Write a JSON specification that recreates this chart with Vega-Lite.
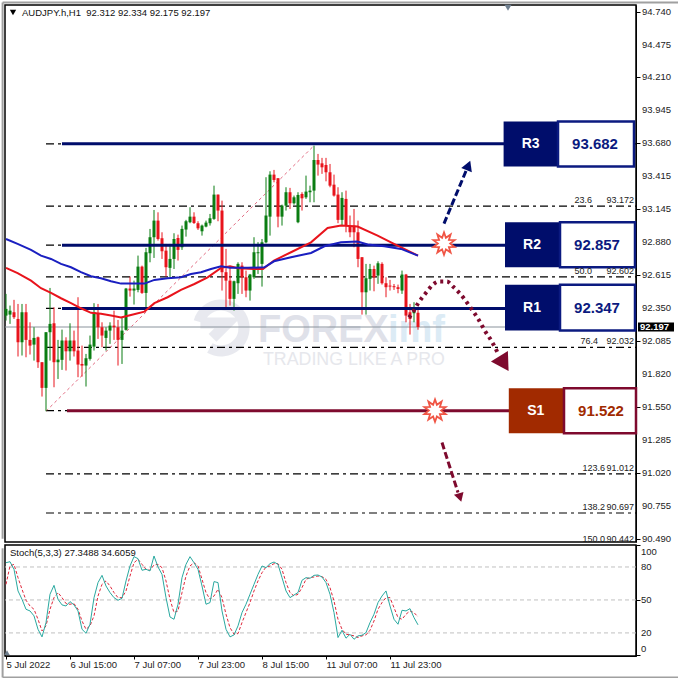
{"$schema":"https://vega.github.io/schema/vega-lite/v6.json","padding":0,"background":"#ffffff","spacing":-2,
"config":{"view":{"stroke":"#000000","strokeWidth":1.5},"font":"Liberation Sans","axis":{"labelFont":"Liberation Sans","labelFontSize":9.5,"labelColor":"#222222","tickColor":"#000000","tickSize":4,"domainColor":"#000000","grid":false,"title":null,"labelFlush":false}},
"datasets":{
"candles":[
{"k":0,"o":92.289,"h":92.464,"l":92.249,"c":92.343},{"k":1,"o":92.297,"h":92.37,"l":92.222,"c":92.329},{"k":2,"o":92.316,"h":92.416,"l":92.262,"c":92.276},{"k":3,"o":92.262,"h":92.383,"l":91.959,"c":92.074},{"k":4,"o":92.074,"h":92.383,"l":91.967,"c":92.316},{"k":5,"o":92.316,"h":92.383,"l":91.953,"c":92.093},{"k":6,"o":92.093,"h":92.235,"l":91.975,"c":92.047},{"k":7,"o":92.055,"h":92.195,"l":91.926,"c":92.109},{"k":8,"o":92.114,"h":92.12,"l":91.867,"c":91.913},{"k":9,"o":91.913,"h":91.913,"l":91.636,"c":91.706},
{"k":10,"o":91.706,"h":92.155,"l":91.518,"c":92.155},{"k":11,"o":92.155,"h":92.512,"l":91.926,"c":92.222},{"k":12,"o":92.227,"h":92.356,"l":91.711,"c":91.913},{"k":13,"o":91.913,"h":92.093,"l":91.778,"c":91.934},{"k":14,"o":91.932,"h":92.176,"l":91.851,"c":92.088},{"k":15,"o":92.088,"h":92.114,"l":91.846,"c":92.001},{"k":16,"o":92.001,"h":92.227,"l":91.926,"c":92.088},{"k":17,"o":92.088,"h":92.168,"l":91.959,"c":92.001},{"k":18,"o":92.007,"h":92.437,"l":91.792,"c":91.894},{"k":19,"o":91.899,"h":92.047,"l":91.797,"c":91.886},
{"k":20,"o":91.886,"h":91.98,"l":91.717,"c":91.945},{"k":21,"o":91.94,"h":92.128,"l":91.926,"c":92.055},{"k":22,"o":92.039,"h":92.389,"l":92.007,"c":92.316},{"k":23,"o":92.308,"h":92.383,"l":92.101,"c":92.195},{"k":24,"o":92.195,"h":92.235,"l":92.034,"c":92.128},{"k":25,"o":92.109,"h":92.195,"l":92.007,"c":92.168},{"k":26,"o":92.168,"h":92.235,"l":92.061,"c":92.208},{"k":27,"o":92.208,"h":92.329,"l":92.093,"c":92.195},{"k":28,"o":92.195,"h":92.254,"l":91.886,"c":92.093},{"k":29,"o":92.093,"h":92.276,"l":91.899,"c":92.168},
{"k":30,"o":92.174,"h":92.512,"l":92.168,"c":92.507},{"k":31,"o":92.507,"h":92.604,"l":92.442,"c":92.491},{"k":32,"o":92.491,"h":92.571,"l":92.378,"c":92.507},{"k":33,"o":92.496,"h":92.773,"l":92.477,"c":92.684},{"k":34,"o":92.684,"h":92.692,"l":92.464,"c":92.472},{"k":35,"o":92.472,"h":92.835,"l":92.356,"c":92.8},{"k":36,"o":92.792,"h":92.988,"l":92.719,"c":92.921},{"k":37,"o":92.921,"h":93.141,"l":92.754,"c":93.055},{"k":38,"o":93.055,"h":93.122,"l":92.894,"c":92.907},{"k":39,"o":92.913,"h":92.961,"l":92.746,"c":92.808},
{"k":40,"o":92.813,"h":92.867,"l":92.604,"c":92.679},{"k":41,"o":92.674,"h":92.867,"l":92.598,"c":92.746},{"k":42,"o":92.746,"h":92.953,"l":92.665,"c":92.907},{"k":43,"o":92.915,"h":92.942,"l":92.733,"c":92.819},{"k":44,"o":92.84,"h":93.015,"l":92.819,"c":92.988},{"k":45,"o":92.983,"h":93.061,"l":92.926,"c":93.05},{"k":46,"o":93.042,"h":93.163,"l":93.034,"c":93.087},{"k":47,"o":93.087,"h":93.122,"l":93.028,"c":93.036},{"k":48,"o":93.034,"h":93.05,"l":92.98,"c":92.993},{"k":49,"o":92.969,"h":93.023,"l":92.934,"c":93.015},
{"k":50,"o":93.007,"h":93.055,"l":93.001,"c":93.039},{"k":51,"o":93.034,"h":93.109,"l":93.015,"c":93.074},{"k":52,"o":93.069,"h":93.337,"l":93.061,"c":93.265},{"k":53,"o":93.265,"h":93.265,"l":93.05,"c":93.136},{"k":54,"o":93.136,"h":93.216,"l":92.491,"c":92.639},{"k":55,"o":92.639,"h":92.827,"l":92.356,"c":92.571},{"k":56,"o":92.571,"h":92.679,"l":92.37,"c":92.424},{"k":57,"o":92.424,"h":92.571,"l":92.329,"c":92.566},{"k":58,"o":92.55,"h":92.719,"l":92.464,"c":92.706},{"k":59,"o":92.692,"h":92.719,"l":92.464,"c":92.598},
{"k":60,"o":92.598,"h":92.652,"l":92.437,"c":92.491},{"k":61,"o":92.491,"h":92.625,"l":92.41,"c":92.62},{"k":62,"o":92.598,"h":92.921,"l":92.585,"c":92.8},{"k":63,"o":92.792,"h":92.881,"l":92.625,"c":92.8},{"k":64,"o":92.706,"h":92.907,"l":92.523,"c":92.88},{"k":65,"o":92.88,"h":93.405,"l":92.872,"c":93.096},{"k":66,"o":93.087,"h":93.453,"l":92.934,"c":93.426},{"k":67,"o":93.426,"h":93.464,"l":93.364,"c":93.383},{"k":68,"o":93.397,"h":93.397,"l":93.001,"c":93.087},{"k":69,"o":93.087,"h":93.184,"l":93.015,"c":93.176},
{"k":70,"o":93.176,"h":93.324,"l":93.136,"c":93.284},{"k":71,"o":93.284,"h":93.319,"l":93.149,"c":93.195},{"k":72,"o":93.195,"h":93.257,"l":93.184,"c":93.243},{"k":73,"o":93.042,"h":93.284,"l":93.034,"c":93.262},{"k":74,"o":93.27,"h":93.284,"l":93.136,"c":93.235},{"k":75,"o":93.243,"h":93.418,"l":93.23,"c":93.289},{"k":76,"o":93.284,"h":93.337,"l":93.203,"c":93.297},{"k":77,"o":93.297,"h":93.66,"l":93.203,"c":93.544},{"k":78,"o":93.544,"h":93.593,"l":93.418,"c":93.507},{"k":79,"o":93.517,"h":93.561,"l":93.432,"c":93.485},
{"k":80,"o":93.504,"h":93.561,"l":93.372,"c":93.445},{"k":81,"o":93.445,"h":93.512,"l":93.324,"c":93.337},{"k":82,"o":93.345,"h":93.426,"l":93.249,"c":93.257},{"k":83,"o":93.265,"h":93.324,"l":93.034,"c":93.061},{"k":84,"o":93.061,"h":93.284,"l":93.015,"c":93.238},{"k":85,"o":93.23,"h":93.297,"l":92.961,"c":93.015},{"k":86,"o":93.015,"h":93.096,"l":92.921,"c":92.961},{"k":87,"o":93.015,"h":93.149,"l":92.84,"c":92.961},{"k":88,"o":92.961,"h":93.055,"l":92.679,"c":92.746},{"k":89,"o":92.76,"h":92.76,"l":92.297,"c":92.477},
{"k":90,"o":92.477,"h":92.706,"l":92.297,"c":92.59},{"k":91,"o":92.585,"h":92.706,"l":92.491,"c":92.665},{"k":92,"o":92.665,"h":92.692,"l":92.485,"c":92.598},{"k":93,"o":92.612,"h":92.727,"l":92.545,"c":92.711},{"k":94,"o":92.706,"h":92.719,"l":92.539,"c":92.55},{"k":95,"o":92.55,"h":92.598,"l":92.437,"c":92.518},{"k":96,"o":92.531,"h":92.577,"l":92.491,"c":92.523},{"k":97,"o":92.526,"h":92.544,"l":92.496,"c":92.518},{"k":98,"o":92.518,"h":92.539,"l":92.469,"c":92.504},{"k":99,"o":92.491,"h":92.652,"l":92.464,"c":92.62},
{"k":100,"o":92.62,"h":92.625,"l":92.235,"c":92.289},{"k":101,"o":92.316,"h":92.383,"l":92.136,"c":92.262},{"k":102,"o":92.308,"h":92.397,"l":92.235,"c":92.338},{"k":103,"o":92.312,"h":92.334,"l":92.175,"c":92.197}],
"blue":[{"k":0,"p":92.907},{"k":2.9,"p":92.867},{"k":6.25,"p":92.819},{"k":8.75,"p":92.773},{"k":11.25,"p":92.746},{"k":13.75,"p":92.706},{"k":16.25,"p":92.679},{"k":18.75,"p":92.639},{"k":21.25,"p":92.606},{"k":23.75,"p":92.59},{"k":26.25,"p":92.566},{"k":28.75,"p":92.547},{"k":31.25,"p":92.547},{"k":34.6,"p":92.547},{"k":37.1,"p":92.577},{"k":40.4,"p":92.59},{"k":43.75,"p":92.598},{"k":46.25,"p":92.625},{"k":48.75,"p":92.639},{"k":51.25,"p":92.665},{"k":53.75,"p":92.687},{"k":56,"p":92.674},{"k":58,"p":92.674},{"k":60.5,"p":92.674},{"k":64.6,"p":92.679},{"k":67,"p":92.727},{"k":71.25,"p":92.76},{"k":76.25,"p":92.794},{"k":79.6,"p":92.848},{"k":83.75,"p":92.88},{"k":87.9,"p":92.886},{"k":90.4,"p":92.862},{"k":94.6,"p":92.848},{"k":98.75,"p":92.827},{"k":103,"p":92.773}],
"red":[{"k":0,"p":92.674},{"k":2.9,"p":92.631},{"k":6.25,"p":92.571},{"k":8.75,"p":92.51},{"k":11.25,"p":92.472},{"k":13.75,"p":92.429},{"k":16.25,"p":92.389},{"k":18.75,"p":92.348},{"k":21.25,"p":92.311},{"k":23.75,"p":92.303},{"k":26.25,"p":92.289},{"k":28.75,"p":92.273},{"k":31.25,"p":92.294},{"k":34.6,"p":92.321},{"k":37.1,"p":92.389},{"k":40.4,"p":92.437},{"k":43.75,"p":92.496},{"k":47.1,"p":92.544},{"k":50.4,"p":92.598},{"k":53.75,"p":92.674},{"k":56,"p":92.687},{"k":58,"p":92.671},{"k":62,"p":92.665},{"k":64.25,"p":92.665},{"k":67,"p":92.733},{"k":71.25,"p":92.8},{"k":76.25,"p":92.88},{"k":80.4,"p":92.996},{"k":83.75,"p":93.015},{"k":87.9,"p":93.007},{"k":92.9,"p":92.934},{"k":97,"p":92.867},{"k":103,"p":92.773}],
"fib":[{"p":93.674,"lv":"0.0"},{"p":93.172,"lv":"23.6"},{"p":92.857,"lv":"38.2"},{"p":92.602,"lv":"50.0"},{"p":92.347,"lv":"61.8"},{"p":92.032,"lv":"76.4"},{"p":91.522,"lv":"100.0"},{"p":91.012,"lv":"123.6"},{"p":90.697,"lv":"138.2"}],
"fibtext":[{"p":93.172,"lv":"23.6","pr":"93.172","k":146.5},{"p":92.602,"lv":"50.0","pr":"92.602","k":146.5},{"p":92.032,"lv":"76.4","pr":"92.032","k":148},{"p":91.012,"lv":"123.6","pr":"91.012","k":149.75},{"p":90.697,"lv":"138.2","pr":"90.697","k":149.75},{"p":90.442,"lv":"150.0","pr":"90.442","k":149.75}],
"levels":[{"n":"R3","p":93.674,"a":14,"b":124.5},{"n":"R2","p":92.857,"a":14,"b":125},{"n":"R1","p":92.347,"a":14,"b":125},{"n":"S1","p":91.522,"a":15.25,"b":126}],
"boxes":[{"n":"R3","v":"93.682","a":124.4,"m":138,"b":157,"t":93.854,"u":93.491,"p":93.674},{"n":"R2","v":"92.857","a":124.75,"m":138.5,"b":157.25,"t":93.042,"u":92.679,"p":92.862},{"n":"R1","v":"92.347","a":124.75,"m":138.5,"b":157.25,"t":92.537,"u":92.169,"p":92.354},{"n":"S1","v":"91.522","a":125.7,"m":139.5,"b":157.5,"t":91.703,"u":91.34,"p":91.522}],
"priceticks":[{"p":94.74,"t":"94.740"},{"p":94.475,"t":"94.475"},{"p":94.21,"t":"94.210"},{"p":93.945,"t":"93.945"},{"p":93.68,"t":"93.680"},{"p":93.415,"t":"93.415"},{"p":93.145,"t":"93.145"},{"p":92.88,"t":"92.880"},{"p":92.615,"t":"92.615"},{"p":92.35,"t":"92.350"},{"p":92.085,"t":"92.085"},{"p":91.82,"t":"91.820"},{"p":91.55,"t":"91.550"},{"p":91.285,"t":"91.285"},{"p":91.02,"t":"91.020"},{"p":90.755,"t":"90.755"},{"p":90.49,"t":"90.490"}],
"stoch":[{"k":0,"a":83.9,"b":64.2},{"k":1,"a":84.8,"b":80.9},{"k":2,"a":77.9,"b":82.4},{"k":3,"a":58.2,"b":70.3},{"k":4,"a":50.6,"b":59.7},{"k":5,"a":41.5,"b":49.7},{"k":6,"a":40,"b":44.5},{"k":7,"a":35.5,"b":41.5},{"k":8,"a":23.3,"b":32.4},{"k":9,"a":16.4,"b":21.8},{"k":10,"a":29.4,"b":26.4},{"k":11,"a":55.2,"b":41.5},{"k":12,"a":63.3,"b":52.1},{"k":13,"a":50.6,"b":56.7},{"k":14,"a":45.5,"b":52.1},{"k":15,"a":44.5,"b":46.7},{"k":16,"a":48.5,"b":46.1},{"k":17,"a":45.5,"b":46.7},{"k":18,"a":40,"b":41.5},{"k":19,"a":23.3,"b":30.9},{"k":20,"a":19.7,"b":23.3},{"k":21,"a":27.9,"b":26.4},{"k":22,"a":52,"b":35.5},{"k":23,"a":65.8,"b":53.6},{"k":24,"a":72.4,"b":64.2},{"k":25,"a":62.7,"b":67.3},{"k":26,"a":56.7,"b":62.7},{"k":27,"a":52.1,"b":56.7},{"k":28,"a":49.7,"b":52.1},{"k":29,"a":51.5,"b":52.1},{"k":30,"a":67.3,"b":58.2},{"k":31,"a":80.9,"b":71.8},{"k":32,"a":89.4,"b":83.9},{"k":33,"a":87.6,"b":87},{"k":34,"a":77,"b":82.4},{"k":35,"a":77.9,"b":77.9},{"k":36,"a":76.4,"b":77},{"k":37,"a":90,"b":81.8},{"k":38,"a":80,"b":82.4},{"k":39,"a":73.3,"b":79.4},{"k":40,"a":52.1,"b":67.3},{"k":41,"a":34.5,"b":50.6},{"k":42,"a":32.4,"b":38.5},{"k":43,"a":46.1,"b":40},{"k":44,"a":70.3,"b":56.7},{"k":45,"a":82.4,"b":71.8},{"k":46,"a":89.4,"b":80.9},{"k":47,"a":83.9,"b":83.9},{"k":48,"a":77.9,"b":80.9},{"k":49,"a":62.7,"b":68.8},{"k":50,"a":46.1,"b":56.7},{"k":51,"a":47.6,"b":50.6},{"k":52,"a":66.7,"b":53.6},{"k":53,"a":65.8,"b":59.7},{"k":54,"a":40,"b":52.1},{"k":55,"a":23.3,"b":37},{"k":56,"a":16.4,"b":24.8},{"k":57,"a":18.2,"b":18.8},{"k":58,"a":26.4,"b":19.4},{"k":59,"a":38.5,"b":29.4},{"k":60,"a":46.1,"b":38.5},{"k":61,"a":55.2,"b":47.6},{"k":62,"a":64.2,"b":58.2},{"k":63,"a":73.3,"b":67.3},{"k":64,"a":80.9,"b":74.8},{"k":65,"a":79.4,"b":80},{"k":66,"a":83,"b":80.9},{"k":67,"a":84.5,"b":83},{"k":68,"a":82.4,"b":83},{"k":69,"a":70.3,"b":77.9},{"k":70,"a":58.2,"b":65.8},{"k":71,"a":52.1,"b":56.7},{"k":72,"a":54.5,"b":53.6},{"k":73,"a":56.7,"b":55.2},{"k":74,"a":67.9,"b":61.2},{"k":75,"a":70.3,"b":68.8},{"k":76,"a":69.7,"b":70.3},{"k":77,"a":72.4,"b":70.9},{"k":78,"a":72.7,"b":71.8},{"k":79,"a":70.9,"b":71.2},{"k":80,"a":65.8,"b":68.8},{"k":81,"a":55.2,"b":61.2},{"k":82,"a":38.5,"b":49.1},{"k":83,"a":15.8,"b":32.4},{"k":84,"a":22.4,"b":23.3},{"k":85,"a":15.2,"b":18.8},{"k":86,"a":18.8,"b":18.2},{"k":87,"a":14.2,"b":17.3},{"k":88,"a":17.3,"b":15.8},{"k":89,"a":17.9,"b":17.3},{"k":90,"a":20.3,"b":18.2},{"k":91,"a":29.4,"b":22.4},{"k":92,"a":37,"b":30.9},{"k":93,"a":47.6,"b":41.5},{"k":94,"a":53.6,"b":47.6},{"k":95,"a":58.2,"b":52.1},{"k":96,"a":44.5,"b":52.1},{"k":97,"a":32.4,"b":43},{"k":98,"a":27.9,"b":33.9},{"k":99,"a":40.6,"b":32.4},{"k":100,"a":40,"b":37},{"k":101,"a":42.1,"b":40},{"k":102,"a":33.9,"b":38.5},{"k":103,"a":27.35,"b":34.6}]
},
"vconcat":[
{"width":631,"height":537,"layer":[
{"data":{"values":[{"k":54,"p":92.185}]},"mark":{"type":"point","filled":false,"size":2916,"stroke":"#dfe1e9","strokeWidth":11,"shape":"M-0.85,-0.25 A0.85,0.85 0 1 1 -0.45,0.72 M-0.8,-0.2 L0.2,-0.2 L-0.35,0.35"},
"encoding":{"x":{"field":"k","type":"quantitative","scale":{"domain":[-0.25,157.5],"nice":false,"zero":false,"padding":0},"axis":null},"y":{"field":"p","type":"quantitative","scale":{"domain":[90.463,94.794],"nice":false,"zero":false},"axis":{"orient":"right","values":[94.74,94.475,94.21,93.945,93.68,93.415,93.145,92.88,92.615,92.35,92.085,91.82,91.55,91.285,91.02,90.755,90.49],"labels":false}}}},
{"data":{"name":"priceticks"},"mark":{"type":"text","font":"Liberation Sans","fontSize":9.5,"fill":"#222222","align":"left","baseline":"middle"},"encoding":{"x":{"datum":159,"type":"quantitative"},"y":{"field":"p","type":"quantitative"},"text":{"field":"t"}}},
{"data":{"values":[{"a":-0.85,"b":168,"p":94.814}]},"mark":{"type":"rule","stroke":"#a0a0a0","strokeWidth":2},"encoding":{"x":{"field":"a","type":"quantitative"},"x2":{"field":"b"},"y":{"field":"p","type":"quantitative"}}},
{"data":{"values":[{"a":-0.85,"t":94.814,"u":90.49}]},"mark":{"type":"rule","stroke":"#a0a0a0","strokeWidth":2},"encoding":{"x":{"field":"a","type":"quantitative"},"y":{"field":"t","type":"quantitative"},"y2":{"field":"u"}}},
{"data":{"values":[{"k":63,"p":92.165,"t":"FOREX"}]},"mark":{"type":"text","align":"left","baseline":"middle","font":"Liberation Sans","fontWeight":"bold","fontSize":38,"fill":"#dfe1e9"},"encoding":{"x":{"field":"k","type":"quantitative"},"y":{"field":"p","type":"quantitative"},"text":{"field":"t"}}},
{"data":{"values":[{"k":95.5,"p":92.165,"t":"imf"}]},"mark":{"type":"text","align":"left","baseline":"middle","font":"Liberation Sans","fontWeight":"bold","fontSize":38,"fill":"#dcebf5"},"encoding":{"x":{"field":"k","type":"quantitative"},"y":{"field":"p","type":"quantitative"},"text":{"field":"t"}}},
{"data":{"values":[{"k":64.25,"p":91.93,"t":"TRADING LIKE A PRO"}]},"mark":{"type":"text","align":"left","baseline":"middle","font":"Liberation Sans","fontSize":17.8,"fill":"#e6e7ec"},"encoding":{"x":{"field":"k","type":"quantitative"},"y":{"field":"p","type":"quantitative"},"text":{"field":"t"}}},
{"data":{"name":"fib"},"mark":{"type":"rule","stroke":"#000000","strokeWidth":1.2,"strokeDash":[8,4,3,4]},"encoding":{"y":{"field":"p","type":"quantitative"},"x":{"datum":10,"type":"quantitative"},"x2":{"datum":157.5}}},
{"data":{"values":[{"k":10,"p":91.518},{"k":77,"p":93.66}]},"mark":{"type":"line","stroke":"#d9445f","strokeWidth":0.8,"strokeDash":[3,3]},"encoding":{"x":{"field":"k","type":"quantitative"},"y":{"field":"p","type":"quantitative"}}},
{"data":{"values":[{"p":92.197}]},"mark":{"type":"rule","stroke":"#8a939c","strokeWidth":1},"encoding":{"y":{"field":"p","type":"quantitative"}}},
{"data":{"name":"candles"},"mark":{"type":"rule","strokeWidth":1},"encoding":{"x":{"field":"k","type":"quantitative"},"y":{"field":"h","type":"quantitative"},"y2":{"field":"l"},"color":{"condition":{"test":"datum.c>=datum.o","value":"#0a7d12"},"value":"#e8141c"}}},
{"data":{"name":"candles"},"mark":{"type":"bar","size":3},"encoding":{"x":{"field":"k","type":"quantitative"},"y":{"field":"o","type":"quantitative"},"y2":{"field":"c"},"color":{"condition":{"test":"datum.c>=datum.o","value":"#0a7d12"},"value":"#e8141c"}}},
{"data":{"name":"levels"},"mark":{"type":"rule","strokeWidth":3},"encoding":{"y":{"field":"p","type":"quantitative"},"x":{"field":"a","type":"quantitative"},"x2":{"field":"b"},"color":{"condition":{"test":"datum.n=='S1'","value":"#7e0a2e"},"value":"#000d6b"}}},
{"data":{"name":"red"},"mark":{"type":"line","stroke":"#e8141c","strokeWidth":2},"encoding":{"x":{"field":"k","type":"quantitative"},"y":{"field":"p","type":"quantitative"}}},
{"data":{"name":"blue"},"mark":{"type":"line","stroke":"#1a1fc0","strokeWidth":2},"encoding":{"x":{"field":"k","type":"quantitative"},"y":{"field":"p","type":"quantitative"}}},
{"data":{"values":[{"k":109.5,"p":93.031},{"k":115.25,"p":93.475}]},"mark":{"type":"line","stroke":"#000d6b","strokeWidth":3,"strokeDash":[7,3]},"encoding":{"x":{"field":"k","type":"quantitative"},"y":{"field":"p","type":"quantitative"}}},
{"data":{"values":[{"k":115.6,"p":93.5}]},"mark":{"type":"point","shape":"triangle-up","angle":22,"filled":true,"size":130,"fill":"#000d6b","opacity":1},"encoding":{"x":{"field":"k","type":"quantitative"},"y":{"field":"p","type":"quantitative"}}},
{"data":{"values":[{"k":100.75,"p":92.273},{"k":102,"p":92.33},{"k":103,"p":92.386},{"k":105.25,"p":92.483},{"k":106.75,"p":92.54},{"k":108.25,"p":92.564},{"k":110.25,"p":92.564},{"k":111.75,"p":92.523},{"k":113.25,"p":92.475},{"k":114.5,"p":92.427},{"k":115.75,"p":92.37},{"k":117,"p":92.314},{"k":118,"p":92.265},{"k":120,"p":92.152},{"k":121,"p":92.104},{"k":122,"p":92.048},{"k":123,"p":91.983}]},"mark":{"type":"line","stroke":"#7e0a2e","strokeWidth":4,"strokeDash":[3,4],"interpolate":"monotone"},"encoding":{"x":{"field":"k","type":"quantitative"},"y":{"field":"p","type":"quantitative"}}},
{"data":{"values":[{"k":124.5,"p":91.902}]},"mark":{"type":"point","shape":"triangle-up","angle":148,"filled":true,"size":400,"fill":"#7e0a2e","opacity":1},"encoding":{"x":{"field":"k","type":"quantitative"},"y":{"field":"p","type":"quantitative"}}},
{"data":{"values":[{"k":109,"p":91.265},{"k":113,"p":90.862}]},"mark":{"type":"line","stroke":"#7e0a2e","strokeWidth":3,"strokeDash":[7,3]},"encoding":{"x":{"field":"k","type":"quantitative"},"y":{"field":"p","type":"quantitative"}}},
{"data":{"values":[{"k":113.5,"p":90.822}]},"mark":{"type":"point","shape":"triangle-up","angle":163,"filled":true,"size":100,"fill":"#7e0a2e","opacity":1},"encoding":{"x":{"field":"k","type":"quantitative"},"y":{"field":"p","type":"quantitative"}}},
{"data":{"values":[{"k":109.5,"p":92.87},{"k":107.25,"p":91.523}]},"mark":{"type":"point","filled":true,"opacity":1,"fill":"#ffffff","stroke":"#f05545","strokeWidth":1.8,"size":500,"shape":"M0,-1 L0.17,-0.52 L0.59,-0.81 L0.44,-0.32 L0.95,-0.31 L0.55,0 L0.95,0.31 L0.44,0.32 L0.59,0.81 L0.17,0.52 L0,1 L-0.17,0.52 L-0.59,0.81 L-0.44,0.32 L-0.95,0.31 L-0.55,0 L-0.95,-0.31 L-0.44,-0.32 L-0.59,-0.81 L-0.17,-0.52 Z"},"encoding":{"x":{"field":"k","type":"quantitative"},"y":{"field":"p","type":"quantitative"}}},
{"data":{"name":"boxes"},"mark":{"type":"rect"},"encoding":{"x":{"field":"a","type":"quantitative"},"x2":{"field":"m"},"y":{"field":"t","type":"quantitative"},"y2":{"field":"u"},"color":{"condition":{"test":"datum.n=='S1'","value":"#a12a00"},"value":"#000d6b"}}},
{"data":{"name":"boxes"},"mark":{"type":"rect","fill":"#ffffff","strokeWidth":2.5},"encoding":{"x":{"field":"m","type":"quantitative"},"x2":{"field":"b"},"y":{"field":"t","type":"quantitative"},"y2":{"field":"u"},"stroke":{"condition":{"test":"datum.n=='S1'","value":"#7e0a2e"},"value":"#0b1a80"}}},
{"data":{"name":"boxes"},"mark":{"type":"text","font":"Liberation Sans","fontWeight":"bold","fontSize":14,"fill":"#ffffff","align":"center","baseline":"middle"},"encoding":{"x":{"field":"a","type":"quantitative"},"y":{"field":"p","type":"quantitative"},"text":{"field":"n"},"xOffset":{"value":27}}},
{"data":{"name":"boxes"},"mark":{"type":"text","font":"Liberation Sans","fontWeight":"bold","fontSize":15,"align":"center","baseline":"middle"},"encoding":{"x":{"field":"m","type":"quantitative"},"y":{"field":"p","type":"quantitative"},"text":{"field":"v"},"xOffset":{"value":37},"color":{"condition":{"test":"datum.n=='S1'","value":"#a12a00"},"value":"#0b1a80"}}},
{"data":{"name":"fibtext"},"mark":{"type":"text","font":"Liberation Sans","fontSize":9,"fill":"#222222","align":"right","baseline":"middle","dy":-6},"encoding":{"x":{"field":"k","type":"quantitative"},"y":{"field":"p","type":"quantitative"},"text":{"field":"lv"}}},
{"data":{"name":"fibtext"},"mark":{"type":"text","font":"Liberation Sans","fontSize":9,"fill":"#222222","align":"right","baseline":"middle","dy":-6},"encoding":{"x":{"datum":157,"type":"quantitative"},"y":{"field":"p","type":"quantitative"},"text":{"field":"pr"}}},
{"data":{"values":[{"k":1.75,"p":94.733}]},"mark":{"type":"point","shape":"triangle-down","filled":true,"size":40,"fill":"#000000","opacity":1},"encoding":{"x":{"field":"k","type":"quantitative"},"y":{"field":"p","type":"quantitative"}}},
{"data":{"values":[{"k":4,"p":94.733,"t":"AUDJPY.h,H1\u00a0\u00a092.312 92.334 92.175 92.197"}]},"mark":{"type":"text","font":"Liberation Sans","fontSize":9.5,"fill":"#111111","align":"left","baseline":"middle"},"encoding":{"x":{"field":"k","type":"quantitative"},"y":{"field":"p","type":"quantitative"},"text":{"field":"t"}}},
{"data":{"values":[{"k":125.5,"p":94.772}]},"mark":{"type":"point","shape":"triangle-down","filled":true,"size":50,"fill":"#6f7f8f","opacity":1},"encoding":{"x":{"field":"k","type":"quantitative"},"y":{"field":"p","type":"quantitative"}}},
{"data":{"values":[{"a":158,"b":167,"t":92.233,"u":92.161}]},"mark":{"type":"rect","fill":"#000000"},"encoding":{"x":{"field":"a","type":"quantitative"},"x2":{"field":"b"},"y":{"field":"t","type":"quantitative"},"y2":{"field":"u"}}},
{"data":{"values":[{"k":158.5,"p":92.197,"t":"92.197"}]},"mark":{"type":"text","font":"Liberation Sans","fontWeight":"bold","fontSize":9.5,"fill":"#ffffff","align":"left","baseline":"middle"},"encoding":{"x":{"field":"k","type":"quantitative"},"y":{"field":"p","type":"quantitative"},"text":{"field":"t"}}}
]},
{"width":631,"height":111,"layer":[
{"data":{"values":[{"k":0,"v":80},{"k":0,"v":50},{"k":0,"v":20}]},"mark":{"type":"rule","stroke":"#c0c0c0","strokeWidth":1,"strokeDash":[4,3]},"encoding":{"y":{"field":"v","type":"quantitative","scale":{"domain":[-1,100],"nice":false,"zero":false},"axis":{"orient":"right","values":[100,80,50,20,0],"labels":false}}}},
{"data":{"values":[{"v":94,"t":"100"},{"v":80,"t":"80"},{"v":50,"t":"50"},{"v":20,"t":"20"},{"v":5.5,"t":"0"}]},"mark":{"type":"text","font":"Liberation Sans","fontSize":9.5,"fill":"#222222","align":"left","baseline":"middle"},"encoding":{"x":{"datum":158.75,"type":"quantitative"},"y":{"field":"v","type":"quantitative"},"text":{"field":"t"}}},
{"data":{"name":"stoch"},"mark":{"type":"line","stroke":"#e0263a","strokeWidth":1,"strokeDash":[3,2]},"encoding":{"x":{"field":"k","type":"quantitative","scale":{"domain":[-0.25,157.5],"nice":false,"zero":false,"padding":0},"axis":{"orient":"bottom","values":[0,16,32,48,64,80,96],"tickSize":3,"labelExpr":"['5 Jul 2022','6 Jul 15:00','7 Jul 07:00','7 Jul 23:00','8 Jul 15:00','11 Jul 07:00','11 Jul 23:00'][datum.value/16]","labelAlign":"left","labelPadding":0,"labelOverlap":false,"labelBound":false}},"y":{"field":"b","type":"quantitative"}}},
{"data":{"name":"stoch"},"mark":{"type":"line","stroke":"#2aa9a0","strokeWidth":1},"encoding":{"x":{"field":"k","type":"quantitative"},"y":{"field":"a","type":"quantitative"}}},
{"data":{"values":[{"k":1,"v":92.7,"t":"Stoch(5,3,3) 27.3488 34.6059"}]},"mark":{"type":"text","font":"Liberation Sans","fontSize":9.5,"fill":"#111111","align":"left","baseline":"middle"},"encoding":{"x":{"field":"k","type":"quantitative"},"y":{"field":"v","type":"quantitative"},"text":{"field":"t"}}},
{"data":{"values":[{"k":0.25,"v":2}]},"mark":{"type":"point","shape":"triangle-up","filled":true,"size":30,"fill":"#6f7f8f","opacity":1},"encoding":{"x":{"field":"k","type":"quantitative"},"y":{"field":"v","type":"quantitative"}}},
{"data":{"values":[{"a":-0.85,"t":97,"u":-20.5}]},"mark":{"type":"rule","stroke":"#a0a0a0","strokeWidth":2},"encoding":{"x":{"field":"a","type":"quantitative"},"y":{"field":"t","type":"quantitative"},"y2":{"field":"u"}}},
{"data":{"values":[{"a":-0.85,"b":168,"v":-20.5}]},"mark":{"type":"rule","stroke":"#a0a0a0","strokeWidth":2},"encoding":{"x":{"field":"a","type":"quantitative"},"x2":{"field":"b"},"y":{"field":"v","type":"quantitative"}}}
]}
]}
